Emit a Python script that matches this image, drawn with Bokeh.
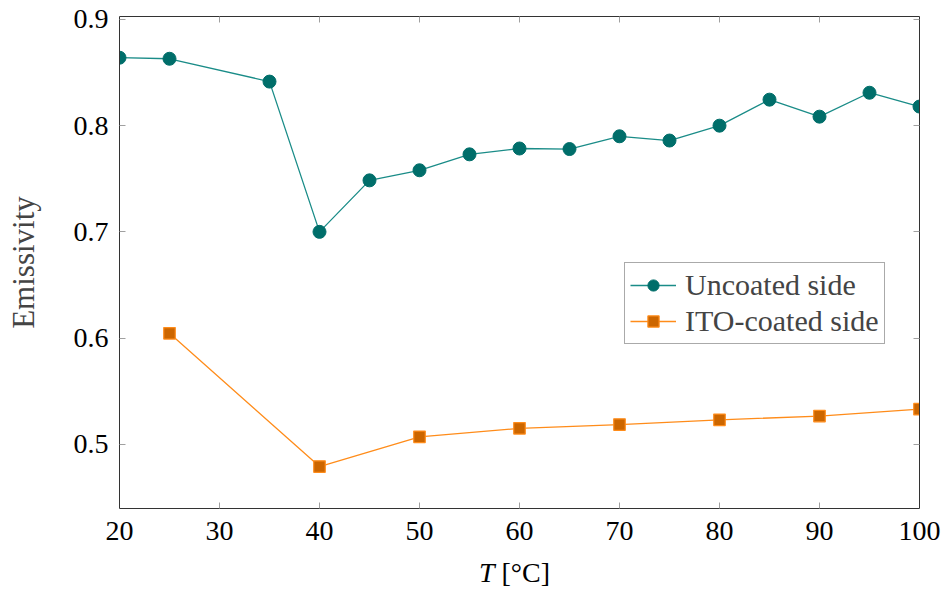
from bokeh.plotting import figure
from bokeh.layouts import column
from bokeh.models import (LinearAxis, FixedTicker, Range1d, Legend, LegendItem)
from bokeh.core.properties import value
from bokeh.embed import file_html
from bokeh.resources import INLINE

# ---- data ----
t_uncoated = [20, 25, 35, 40, 45, 50, 55, 60, 65, 70, 75, 80, 85, 90, 95, 100]
e_uncoated = [0.864, 0.863, 0.8415, 0.700, 0.7485, 0.758, 0.773, 0.7785, 0.778,
              0.790, 0.786, 0.800, 0.8245, 0.8085, 0.831, 0.818]
t_ito = [25, 40, 50, 60, 70, 80, 90, 100]
e_ito = [0.6045, 0.479, 0.507, 0.515, 0.5185, 0.523, 0.5265, 0.533]
x_ticks = [20, 30, 40, 50, 60, 70, 80, 90, 100]
y_ticks = [0.5, 0.6, 0.7, 0.8, 0.9]
x_label_var = "T"
x_label_unit = "[°C]"
y_label = "Emissivity"
series_names = ["Uncoated side", "ITO-coated side"]

FONT = "Liberation Serif"
TEAL_LINE = "#1a8c88"
TEAL_MARK = "#006e6a"
ORANGE_LINE = "#ff8c1a"
ORANGE_FILL = "#cc6600"
ORANGE_EDGE = "#ff8c1a"

p = figure(width=943, height=555, output_backend="svg", toolbar_location=None,
           title=None,
           x_range=Range1d(20, 100), y_range=Range1d(0.4395, 0.9028),
           x_axis_location=None, y_axis_location=None)
p.min_border_left = 119
p.min_border_right = 24
p.min_border_top = 16
p.min_border_bottom = 47
p.outline_line_color = None
p.xgrid.visible = False
p.ygrid.visible = False
p.background_fill_color = "white"
p.border_fill_color = "white"


def style_axis(ax, labels=True, standoff=10):
    ax.axis_line_color = "#333333"
    ax.axis_line_width = 1
    ax.major_tick_in = 6
    ax.major_tick_out = 0
    ax.major_tick_line_color = "#a0a0a0"
    ax.major_tick_line_width = 1
    ax.minor_tick_line_color = None
    ax.major_label_text_font = FONT
    if labels:
        ax.major_label_text_font_size = "28px"
        ax.major_label_text_color = "black"
        ax.major_label_standoff = standoff
    else:
        # mirrored axis: ticks only, labels not drawn
        ax.major_label_text_font_size = "1px"
        ax.major_label_text_color = None
        ax.major_label_text_alpha = 0
        ax.major_label_standoff = 0


xb = LinearAxis(ticker=FixedTicker(ticks=x_ticks))
style_axis(xb, standoff=13)
xt = LinearAxis(ticker=FixedTicker(ticks=x_ticks))
style_axis(xt, labels=False)
yl = LinearAxis(ticker=FixedTicker(ticks=y_ticks), axis_label=y_label)
style_axis(yl, standoff=11)
yl.axis_label_text_font = FONT
yl.axis_label_text_font_size = "31px"
yl.axis_label_text_font_style = "normal"
yl.axis_label_standoff = 30
yr = LinearAxis(ticker=FixedTicker(ticks=y_ticks))
style_axis(yr, labels=False)

p.add_layout(xb, "below")
p.add_layout(xt, "above")
p.add_layout(yl, "left")
p.add_layout(yr, "right")

l1 = p.line(t_uncoated, e_uncoated, line_color=TEAL_LINE, line_width=1.3)
s1 = p.scatter(t_uncoated, e_uncoated, marker="circle", size=13,
               fill_color=TEAL_MARK, line_color=TEAL_MARK, line_width=1)
l2 = p.line(t_ito, e_ito, line_color=ORANGE_LINE, line_width=1.3)
s2 = p.scatter(t_ito, e_ito, marker="square", size=11.5,
               fill_color=ORANGE_FILL, line_color=ORANGE_EDGE, line_width=1.2)

legend = Legend(items=[LegendItem(label=series_names[0], renderers=[l1, s1]),
                       LegendItem(label=series_names[1], renderers=[l2, s2])],
                location=(505, 164))
legend.label_text_font = FONT
legend.label_text_font_size = "30px"
legend.border_line_color = "#555555"
legend.border_line_width = 1
legend.background_fill_alpha = 1
legend.glyph_width = 46
legend.glyph_height = 28
legend.label_height = 28
legend.label_standoff = 9
legend.spacing = 2
legend.padding = 5
legend.margin = 0
p.add_layout(legend, "center")

# ---- x-axis title strip (italic T + upright unit) ----
q = figure(width=943, height=34, output_backend="svg", toolbar_location=None,
           title=None, x_range=Range1d(20, 100), y_range=Range1d(0, 1),
           x_axis_location=None, y_axis_location=None)
q.min_border_left = 119
q.min_border_right = 24
q.min_border_top = 0
q.min_border_bottom = 0
q.outline_line_color = None
q.xgrid.visible = False
q.ygrid.visible = False
q.text(x=[57.5], y=[0.5], text=[x_label_var], text_font=value(FONT),
       text_font_size="28px", text_font_style="italic",
       text_align="right", text_baseline="middle", text_color="black")
q.text(x=[58.2], y=[0.5], text=[x_label_unit], text_font=value(FONT),
       text_font_size="28px", text_align="left", text_baseline="middle",
       text_color="black")

layout = column(p, q, spacing=0)
open("out.html", "w").write(file_html(layout, INLINE))
